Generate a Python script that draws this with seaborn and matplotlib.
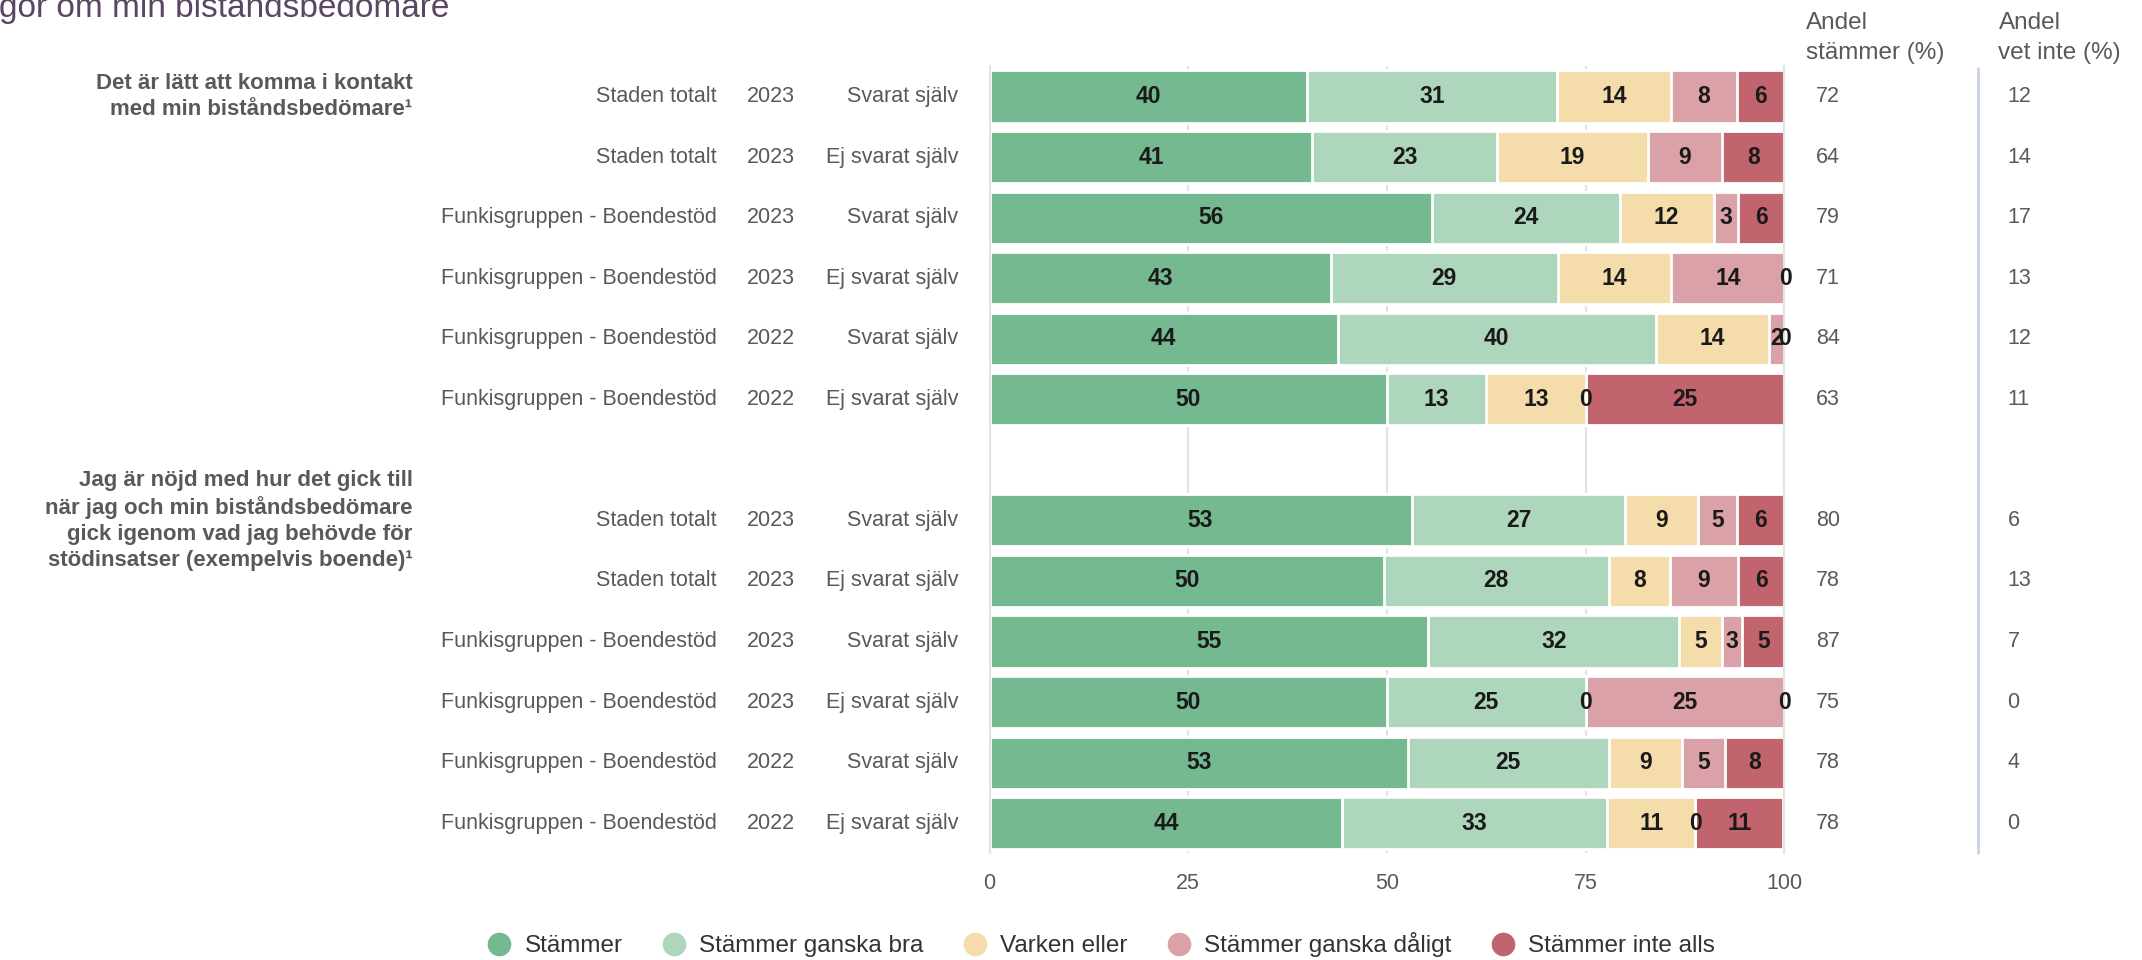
import numpy as np
import pandas as pd
import matplotlib
matplotlib.use("Agg")
import matplotlib.pyplot as plt
import matplotlib.transforms as mtransforms
from matplotlib.lines import Line2D
import seaborn as sns

# data
categories = ["Stämmer", "Stämmer ganska bra", "Varken eller",
              "Stämmer ganska dåligt", "Stämmer inte alls"]
colors = ["#75b991", "#aed6bd", "#f4dcab", "#dba1a8", "#c1646d"]

questions = ["Det är lätt att komma i kontakt\nmed min biståndsbedömare\u00b9",
             "Jag är nöjd med hur det gick till\nnär jag och min biståndsbedömare\n"
             "gick igenom vad jag behövde för\nstödinsatser (exempelvis boende)\u00b9"]

groups = ["Staden totalt", "Staden totalt", "Funkisgruppen - Boendestöd",
          "Funkisgruppen - Boendestöd", "Funkisgruppen - Boendestöd",
          "Funkisgruppen - Boendestöd"]
years = ["2023", "2023", "2023", "2023", "2022", "2022"]
answered = ["Svarat själv", "Ej svarat själv", "Svarat själv", "Ej svarat själv",
            "Svarat själv", "Ej svarat själv"]

q1_stammer = [40.0, 40.6, 55.7, 42.9, 43.8, 50.0]
q1_ganska_bra = [31.4, 23.3, 23.6, 28.6, 40.0, 12.5]
q1_varken = [14.3, 18.9, 11.8, 14.3, 14.3, 12.5]
q1_ganska_daligt = [8.4, 9.4, 3.1, 14.3, 1.9, 0.0]
q1_inte_alls = [5.9, 7.8, 5.8, 0.0, 0.0, 25.0]

q2_stammer = [53.1, 49.6, 55.2, 50.0, 52.6, 44.4]
q2_ganska_bra = [26.9, 28.3, 31.6, 25.0, 25.3, 33.3]
q2_varken = [9.2, 7.7, 5.3, 0.0, 9.2, 11.1]
q2_ganska_daligt = [4.9, 8.6, 2.6, 25.0, 5.4, 0.0]
q2_inte_alls = [5.9, 5.8, 5.3, 0.0, 7.5, 11.1]

q1_andel_stammer = [72, 64, 79, 71, 84, 63]
q1_vet_inte = [12, 14, 17, 13, 12, 11]
q2_andel_stammer = [80, 78, 87, 75, 78, 78]
q2_vet_inte = [6, 13, 7, 0, 4, 0]

# build one table, with an empty row between the two questions
q1 = [q1_stammer, q1_ganska_bra, q1_varken, q1_ganska_daligt, q1_inte_alls]
q2 = [q2_stammer, q2_ganska_bra, q2_varken, q2_ganska_daligt, q2_inte_alls]
rows = []
for qi, (vals, st, vi) in enumerate([(q1, q1_andel_stammer, q1_vet_inte),
                                     (q2, q2_andel_stammer, q2_vet_inte)]):
    for i in range(len(groups)):
        rec = {"row": f"q{qi}_{i}", "question": qi, "group": groups[i],
               "year": years[i], "answered": answered[i],
               "stammer_pct": st[i], "vet_inte": vi[i]}
        for c, v in zip(categories, vals):
            rec[c] = v[i]
        rows.append(rec)
df = pd.DataFrame(rows)
order = [f"q0_{i}" for i in range(6)] + ["gap"] + [f"q1_{i}" for i in range(6)]
df["pos"] = df["row"].map({r: k for k, r in enumerate(order)})
cum = df[categories].cumsum(axis=1)

sns.set_theme(style="white")
plt.rcParams["font.family"] = ["Liberation Sans", "DejaVu Sans"]
grey = "#595959"

fig = plt.figure(figsize=(21.42, 9.6), dpi=100)
ax = fig.add_axes([0.462, 0.111, 0.371, 0.820])

# stacked bars: draw cumulative totals from the widest to the narrowest
for k in range(len(categories) - 1, -1, -1):
    layer = pd.DataFrame({"row": df["row"], "end": cum[categories[k]]})
    sns.barplot(data=layer, x="end", y="row", order=order, orient="h",
                color=colors[k], saturation=1, width=0.86, errorbar=None,
                edgecolor="white", linewidth=2, ax=ax)

# value labels
for _, r in df.iterrows():
    left = 0
    for c in categories:
        v = r[c]
        ax.text(left + v / 2, r["pos"], f"{int(np.floor(v + 0.5))}",
                ha="center", va="center", fontsize=16.5, fontweight="bold",
                color="#1a1a1a")
        left += v

ax.set_xlim(0, 100)
ax.set_ylim(12.5, -0.5)
ax.set_xticks([0, 25, 50, 75, 100])
ax.set_xticklabels(["0", "25", "50", "75", "100"])
ax.xaxis.grid(True, color="#e3e3e3", lw=1.5)
ax.set_axisbelow(True)
ax.tick_params(axis="x", length=0, pad=14, labelsize=15.5, labelcolor=grey)
ax.set_yticks(np.arange(-0.5, 13, 1))
ax.set_yticklabels([])
ax.tick_params(axis="y", length=14, width=2, color="#c8d3e6")
ax.set_xlabel("")
ax.set_ylabel("")
for s in ["top", "bottom"]:
    ax.spines[s].set_visible(False)
for s in ["left", "right"]:
    ax.spines[s].set_color("#e3e3e3")
    ax.spines[s].set_linewidth(1.5)

# row labels and right hand columns
tr = mtransforms.blended_transform_factory(ax.transAxes, ax.transData)
for _, r in df.iterrows():
    y = r["pos"]
    ax.text(-0.343, y, r["group"], transform=tr, ha="right", va="center",
            fontsize=15.5, color=grey)
    ax.text(-0.245, y, r["year"], transform=tr, ha="right", va="center",
            fontsize=15.5, color=grey)
    ax.text(-0.039, y, r["answered"], transform=tr, ha="right", va="center",
            fontsize=15.5, color=grey)
    ax.text(1.040, y, str(r["stammer_pct"]), transform=tr, ha="left",
            va="center", fontsize=15.5, color=grey)
    ax.text(1.281, y, str(r["vet_inte"]), transform=tr, ha="left",
            va="center", fontsize=15.5, color=grey)

for qi, q in enumerate(questions):
    ax.text(-0.726, order.index(f"q{qi}_0"), q, transform=tr, ha="right",
            va="center", fontsize=16, fontweight="bold", color=grey,
            linespacing=1.3)

fig.text(0.843, 0.988, "Andel\nstämmer (%)", ha="left", va="top",
         fontsize=17.5, color=grey, linespacing=1.5)
fig.text(0.933, 0.988, "Andel\nvet inte (%)", ha="left", va="top",
         fontsize=17.5, color=grey, linespacing=1.5)
fig.add_artist(Line2D([1978 / 2142, 1978 / 2142], [0.111, 0.929],
                      color="#c5d3e8", lw=2))

# title, cut off at the top left as in the source
fig.text(449 / 2142, 0.9818, "Frågor om min biståndsbedömare", ha="right",
         va="baseline", fontsize=24, color="#5a4563")

handles = [Line2D([], [], marker="o", ls="", markersize=16,
                  markerfacecolor=c, markeredgecolor=c) for c in colors]
fig.legend(handles, categories, loc="center", bbox_to_anchor=(0.514, 0.016),
           ncol=5, frameon=False, fontsize=17.5, handletextpad=0.55,
           handlelength=1.0, columnspacing=1.6, labelcolor="#333333")

fig.savefig("out.png", dpi=100)
